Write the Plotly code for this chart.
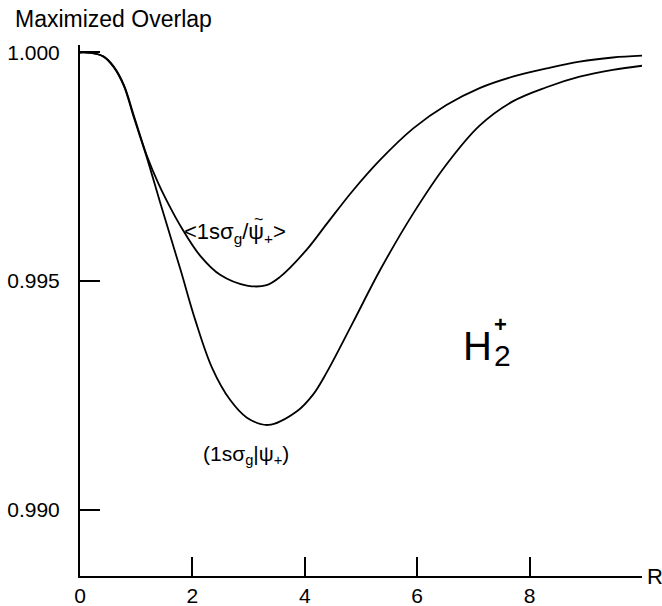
import plotly.graph_objects as go

# Data
R_upper = [0.0, 0.2, 0.42, 0.6, 0.78, 0.96, 1.19, 1.4, 1.61, 1.79, 2.14, 2.5, 2.97, 3.32, 3.56, 4.03, 4.39, 4.85, 5.34, 5.93, 6.52, 7.11, 7.7, 8.3, 8.89, 9.48, 10.0]
overlap_upper = [1.0, 0.99999, 0.99991, 0.99969, 0.99929, 0.99861, 0.99774, 0.99712, 0.99660, 0.99620, 0.99555, 0.99513, 0.99490, 0.99491, 0.99509, 0.99568, 0.99625, 0.99697, 0.99765, 0.99834, 0.99885, 0.99922, 0.99947, 0.99965, 0.99980, 0.99989, 0.99993]

R_lower = [0.0, 0.2, 0.42, 0.6, 0.78, 0.96, 1.19, 1.43, 1.79, 2.05, 2.35, 2.67, 2.97, 3.35, 3.86, 4.15, 4.39, 4.86, 5.34, 5.93, 6.52, 7.11, 7.7, 8.3, 8.89, 9.48, 10.0]
overlap_lower = [1.0, 0.99999, 0.99991, 0.99968, 0.99927, 0.99857, 0.99770, 0.99670, 0.99524, 0.99415, 0.99310, 0.99240, 0.99201, 0.99185, 0.99215, 0.99252, 0.99300, 0.99410, 0.99524, 0.99648, 0.99755, 0.99840, 0.99893, 0.99924, 0.99947, 0.99962, 0.99971]

x_tick_vals = [0, 2, 4, 6, 8]
x_tick_text = ["0", "2", "4", "6", "8"]
y_tick_vals = [0.990, 0.995, 1.000]
y_tick_text = ["0.990", "0.995", "1.000"]

FONT = "Liberation Sans"

fig = go.Figure()
for xs, ys in ((R_upper, overlap_upper), (R_lower, overlap_lower)):
    fig.add_trace(go.Scatter(
        x=xs, y=ys, mode="lines",
        line=dict(color="black", width=1.8, shape="spline", smoothing=1.0),
        showlegend=False, hoverinfo="skip",
    ))

fig.update_layout(
    width=662, height=606,
    margin=dict(l=80, r=20, t=45, b=30, autoexpand=False),
    paper_bgcolor="white", plot_bgcolor="white",
    font=dict(family=FONT, size=20, color="black"),
    showlegend=False,
)
fig.update_xaxes(
    range=[0, 10], showline=True, linecolor="black", linewidth=2,
    ticks="inside", ticklen=19, tickwidth=1.5, tickcolor="black",
    tickvals=x_tick_vals, ticktext=x_tick_text,
    showgrid=False, zeroline=False, ticklabelstandoff=0, automargin=False,
    tickfont=dict(family=FONT, size=21, color="black"),
)
fig.update_yaxes(
    range=[0.988545, 1.000164], showline=True, linecolor="black", linewidth=2,
    ticks="inside", ticklen=20, tickwidth=1.5, tickcolor="black",
    tickvals=y_tick_vals, ticktext=y_tick_text,
    showgrid=False, zeroline=False, ticklabelstandoff=14, automargin=False,
    tickfont=dict(family=FONT, size=21, color="black"),
)

annotations = [
    dict(text="Maximized Overlap", xref="paper", yref="paper", x=-0.12, y=1.0,
         xanchor="left", yanchor="bottom", yshift=11, showarrow=False,
         font=dict(family=FONT, size=23, color="black")),
    dict(text="R", xref="paper", yref="paper", x=1.0, y=0.0,
         xanchor="left", yanchor="middle", xshift=3, showarrow=False,
         font=dict(family=FONT, size=22, color="black")),
    dict(text="&lt;1sσ<sub>g</sub>/ψ<sub>+</sub>&gt;", x=2.75, y=0.99605,
         showarrow=False, font=dict(family=FONT, size=22, color="black")),
    dict(text="~", x=2.75, y=0.99605, xshift=24, yshift=14,
         showarrow=False, font=dict(family=FONT, size=16, color="black")),
    dict(text="(1sσ<sub>g</sub>|ψ<sub>+</sub>)", x=2.95, y=0.99119,
         showarrow=False, font=dict(family=FONT, size=21, color="black")),
    dict(text="H", x=7.07, y=0.99358, showarrow=False,
         font=dict(family=FONT, size=40, color="black")),
    dict(text="2", x=7.52, y=0.99336, showarrow=False,
         font=dict(family=FONT, size=30, color="black")),
    dict(text="<b>+</b>", x=7.49, y=0.99405, showarrow=False,
         font=dict(family=FONT, size=22, color="black")),
]
fig.update_layout(annotations=annotations)

fig.write_html("out.html", config={"displayModeBar": False},
               post_script="document.body.style.margin='0px';")
